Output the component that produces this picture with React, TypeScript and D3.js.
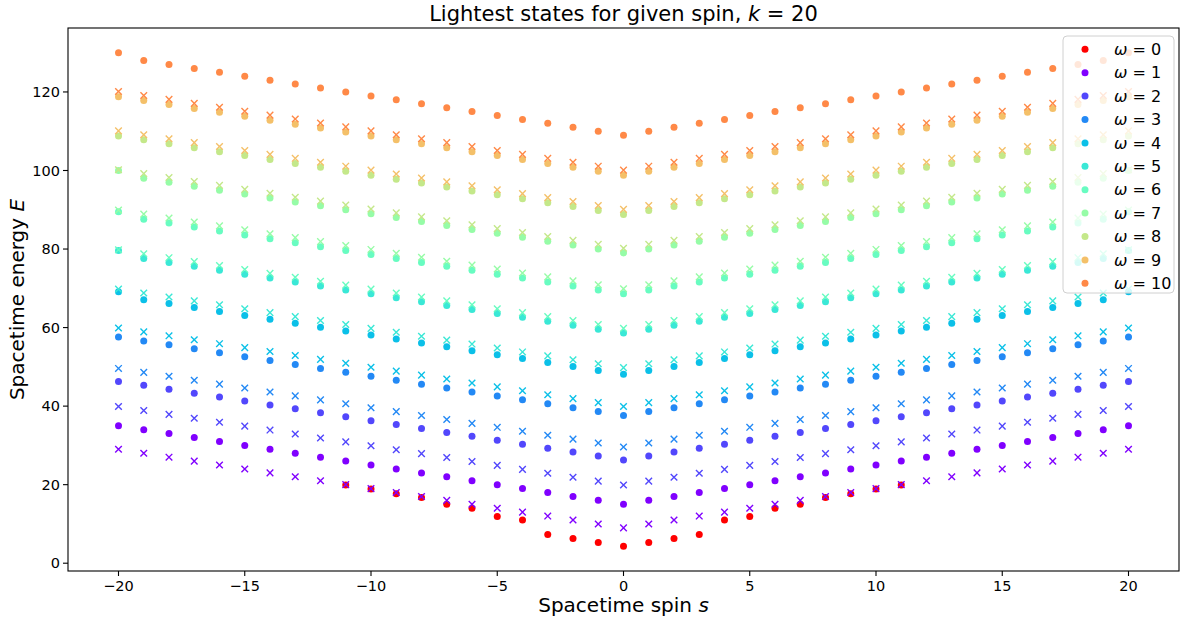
import React from 'react';
import * as d3 from 'd3';

const spins = [-20, -19, -18, -17, -16, -15, -14, -13, -12, -11, -10, -9, -8, -7, -6, -5, -4, -3, -2, -1, 0, 1, 2, 3, 4, 5, 6, 7, 8, 9, 10, 11, 12, 13, 14, 15, 16, 17, 18, 19, 20];
const spinsW0 = [-11, -10, -9, -8, -7, -6, -5, -4, -3, -2, -1, 0, 1, 2, 3, 4, 5, 6, 7, 8, 9, 10, 11];

const omegas = [0, 1, 2, 3, 4, 5, 6, 7, 8, 9, 10];
const colors = ['#ff0000', '#8000ff', '#5247fc', '#2389f5', '#0bc0e8', '#3ae8d6', '#68fcc1', '#96fca7', '#c4e88a', '#f4c069', '#ff8947'];

// lightest states (dots)
const dotsW0 = [19.9, 18.9, 17.7, 16.7, 15.0, 14.0, 11.9, 11.0, 7.3, 6.3, 5.3, 4.3, 5.3, 6.3, 7.3, 11.0, 11.9, 14.0, 15.0, 16.7, 17.7, 18.9, 19.9];
const dotsW1 = [35, 34, 33, 32, 31, 30, 29, 28, 27, 26, 25, 24, 23, 22, 21, 20, 19, 18, 17, 16, 15, 16, 17, 18, 19, 20, 21, 22, 23, 24, 25, 26, 27, 28, 29, 30, 31, 32, 33, 34, 35];
const dotsW2 = [46.3, 45.3, 44.3, 43.3, 42.3, 41.3, 40.3, 39.3, 38.3, 37.3, 36.3, 35.3, 34.3, 33.3, 32.3, 31.3, 30.3, 29.3, 28.3, 27.3, 26.3, 27.3, 28.3, 29.3, 30.3, 31.3, 32.3, 33.3, 34.3, 35.3, 36.3, 37.3, 38.3, 39.3, 40.3, 41.3, 42.3, 43.3, 44.3, 45.3, 46.3];
const dotsW3 = [57.6, 56.6, 55.6, 54.6, 53.6, 52.6, 51.6, 50.6, 49.6, 48.6, 47.6, 46.6, 45.6, 44.6, 43.6, 42.6, 41.6, 40.6, 39.6, 38.6, 37.6, 38.6, 39.6, 40.6, 41.6, 42.6, 43.6, 44.6, 45.6, 46.6, 47.6, 48.6, 49.6, 50.6, 51.6, 52.6, 53.6, 54.6, 55.6, 56.6, 57.6];
const dotsW4 = [69.1, 67.1, 66.1, 65.1, 64.1, 63.1, 62.1, 61.1, 60.1, 59.1, 58.1, 57.1, 56.1, 55.1, 54.1, 53.1, 52.1, 51.1, 50.1, 49.1, 48.1, 49.1, 50.1, 51.1, 52.1, 53.1, 54.1, 55.1, 56.1, 57.1, 58.1, 59.1, 60.1, 61.1, 62.1, 63.1, 64.1, 65.1, 66.1, 67.1, 69.1];
const dotsW5 = [79.6, 77.6, 76.6, 75.6, 74.6, 73.6, 72.6, 71.6, 70.6, 69.6, 68.6, 67.6, 66.6, 65.6, 64.6, 63.6, 62.6, 61.6, 60.6, 59.6, 58.6, 59.6, 60.6, 61.6, 62.6, 63.6, 64.6, 65.6, 66.6, 67.6, 68.6, 69.6, 70.6, 71.6, 72.6, 73.6, 74.6, 75.6, 76.6, 77.6, 79.6];
const dotsW6 = [89.5, 87.6, 86.6, 85.6, 84.6, 83.6, 82.6, 81.6, 80.6, 79.6, 78.6, 77.6, 76.6, 75.6, 74.6, 73.6, 72.6, 71.6, 70.6, 69.6, 68.6, 69.6, 70.6, 71.6, 72.6, 73.6, 74.6, 75.6, 76.6, 77.6, 78.6, 79.6, 80.6, 81.6, 82.6, 83.6, 84.6, 85.6, 86.6, 87.6, 89.5];
const dotsW7 = [100.0, 98.0, 97.0, 96.0, 95.0, 94.0, 93.0, 92.0, 91.0, 90.0, 89.0, 88.0, 87.0, 86.0, 85.0, 84.0, 83.0, 82.0, 81.0, 80.0, 79.0, 80.0, 81.0, 82.0, 83.0, 84.0, 85.0, 86.0, 87.0, 88.0, 89.0, 90.0, 91.0, 92.0, 93.0, 94.0, 95.0, 96.0, 97.0, 98.0, 100.0];
const dotsW8 = [108.8, 107.8, 106.8, 105.8, 104.8, 103.8, 102.8, 101.8, 100.8, 99.8, 98.8, 97.8, 96.8, 95.8, 94.8, 93.8, 92.8, 91.8, 90.8, 89.8, 88.8, 89.8, 90.8, 91.8, 92.8, 93.8, 94.8, 95.8, 96.8, 97.8, 98.8, 99.8, 100.8, 101.8, 102.8, 103.8, 104.8, 105.8, 106.8, 107.8, 108.8];
const dotsW9 = [118.8, 117.8, 116.8, 115.8, 114.8, 113.8, 112.8, 111.8, 110.8, 109.8, 108.8, 107.8, 106.8, 105.8, 104.8, 103.8, 102.8, 101.8, 100.8, 99.8, 98.8, 99.8, 100.8, 101.8, 102.8, 103.8, 104.8, 105.8, 106.8, 107.8, 108.8, 109.8, 110.8, 111.8, 112.8, 113.8, 114.8, 115.8, 116.8, 117.8, 118.8];
const dotsW10 = [130, 128, 127, 126, 125, 124, 123, 122, 121, 120, 119, 118, 117, 116, 115, 114, 113, 112, 111, 110, 109, 110, 111, 112, 113, 114, 115, 116, 117, 118, 119, 120, 121, 122, 123, 124, 125, 126, 127, 128, 130];

// crosses
const crossW1 = [29, 28, 27, 26, 25, 24, 23, 22, 21, 20, 19, 18, 17, 16, 15, 14, 13, 12, 11, 10, 9, 10, 11, 12, 13, 14, 15, 16, 17, 18, 19, 20, 21, 22, 23, 24, 25, 26, 27, 28, 29];
const crossW2 = [39.9, 38.9, 37.9, 36.9, 35.9, 34.9, 33.9, 32.9, 31.9, 30.9, 29.9, 28.9, 27.9, 26.9, 25.9, 24.9, 23.9, 22.9, 21.9, 20.9, 19.9, 20.9, 21.9, 22.9, 23.9, 24.9, 25.9, 26.9, 27.9, 28.9, 29.9, 30.9, 31.9, 32.9, 33.9, 34.9, 35.9, 36.9, 37.9, 38.9, 39.9];
const crossW3 = [49.6, 48.6, 47.6, 46.6, 45.6, 44.6, 43.6, 42.6, 41.6, 40.6, 39.6, 38.6, 37.6, 36.6, 35.6, 34.6, 33.6, 32.6, 31.6, 30.6, 29.6, 30.6, 31.6, 32.6, 33.6, 34.6, 35.6, 36.6, 37.6, 38.6, 39.6, 40.6, 41.6, 42.6, 43.6, 44.6, 45.6, 46.6, 47.6, 48.6, 49.6];
const crossW4 = [59.9, 58.9, 57.9, 56.9, 55.9, 54.9, 53.9, 52.9, 51.9, 50.9, 49.9, 48.9, 47.9, 46.9, 45.9, 44.9, 43.9, 42.9, 41.9, 40.9, 39.9, 40.9, 41.9, 42.9, 43.9, 44.9, 45.9, 46.9, 47.9, 48.9, 49.9, 50.9, 51.9, 52.9, 53.9, 54.9, 55.9, 56.9, 57.9, 58.9, 59.9];
const crossW5 = [69.8, 68.8, 67.8, 66.8, 65.8, 64.8, 63.8, 62.8, 61.8, 60.8, 59.8, 58.8, 57.8, 56.8, 55.8, 54.8, 53.8, 52.8, 51.8, 50.8, 49.8, 50.8, 51.8, 52.8, 53.8, 54.8, 55.8, 56.8, 57.8, 58.8, 59.8, 60.8, 61.8, 62.8, 63.8, 64.8, 65.8, 66.8, 67.8, 68.8, 69.8];
const crossW6 = [79.8, 78.8, 77.8, 76.8, 75.8, 74.8, 73.8, 72.8, 71.8, 70.8, 69.8, 68.8, 67.8, 66.8, 65.8, 64.8, 63.8, 62.8, 61.8, 60.8, 59.8, 60.8, 61.8, 62.8, 63.8, 64.8, 65.8, 66.8, 67.8, 68.8, 69.8, 70.8, 71.8, 72.8, 73.8, 74.8, 75.8, 76.8, 77.8, 78.8, 79.8];
const crossW7 = [89.9, 88.9, 87.9, 86.9, 85.9, 84.9, 83.9, 82.9, 81.9, 80.9, 79.9, 78.9, 77.9, 76.9, 75.9, 74.9, 73.9, 72.9, 71.9, 70.9, 69.9, 70.9, 71.9, 72.9, 73.9, 74.9, 75.9, 76.9, 77.9, 78.9, 79.9, 80.9, 81.9, 82.9, 83.9, 84.9, 85.9, 86.9, 87.9, 88.9, 89.9];
const crossW8 = [100.2, 99.2, 98.2, 97.2, 96.2, 95.2, 94.2, 93.2, 92.2, 91.2, 90.2, 89.2, 88.2, 87.2, 86.2, 85.2, 84.2, 83.2, 82.2, 81.2, 80.2, 81.2, 82.2, 83.2, 84.2, 85.2, 86.2, 87.2, 88.2, 89.2, 90.2, 91.2, 92.2, 93.2, 94.2, 95.2, 96.2, 97.2, 98.2, 99.2, 100.2];
const crossW9 = [110.1, 109.1, 108.1, 107.1, 106.1, 105.1, 104.1, 103.1, 102.1, 101.1, 100.1, 99.1, 98.1, 97.1, 96.1, 95.1, 94.1, 93.1, 92.1, 91.1, 90.1, 91.1, 92.1, 93.1, 94.1, 95.1, 96.1, 97.1, 98.1, 99.1, 100.1, 101.1, 102.1, 103.1, 104.1, 105.1, 106.1, 107.1, 108.1, 109.1, 110.1];
const crossW10 = [120.1, 119.1, 118.1, 117.1, 116.1, 115.1, 114.1, 113.1, 112.1, 111.1, 110.1, 109.1, 108.1, 107.1, 106.1, 105.1, 104.1, 103.1, 102.1, 101.1, 100.1, 101.1, 102.1, 103.1, 104.1, 105.1, 106.1, 107.1, 108.1, 109.1, 110.1, 111.1, 112.1, 113.1, 114.1, 115.1, 116.1, 117.1, 118.1, 119.1, 120.1];

const xTicks = [-20, -15, -10, -5, 0, 5, 10, 15, 20];
const yTicks = [0, 20, 40, 60, 80, 100, 120];

const dotSeries = [dotsW0, dotsW1, dotsW2, dotsW3, dotsW4, dotsW5, dotsW6, dotsW7, dotsW8, dotsW9, dotsW10];
const crossSeries = [null, crossW1, crossW2, crossW3, crossW4, crossW5, crossW6, crossW7, crossW8, crossW9, crossW10];

const W = 1184;
const H = 619;
const m = { l: 68, r: 5, t: 28, b: 48 };
const font = 'DejaVu Sans, sans-serif';

const fmt = (v: number) => (v < 0 ? '\u2212' + Math.abs(v) : String(v));

const Cross = ({ x, y, c }) => {
	const a = 3.3;
	return <path d={`M${x - a},${y - a}L${x + a},${y + a}M${x - a},${y + a}L${x + a},${y - a}`} stroke={c} strokeWidth={1.4} fill="none" />;
};

const App = () => {
	const allY = [...dotSeries.flat(), ...crossSeries.filter(Boolean).flat()];
	const [y0, y1] = d3.extent(allY) as [number, number];
	const yPad = (y1 - y0) * 0.05;
	const xScale = d3.scaleLinear().domain([-22, 22]).range([m.l, W - m.r]);
	const yScale = d3.scaleLinear().domain([y0 - yPad, y1 + yPad]).range([H - m.b, m.t]);

	const legX = 1063;
	const legY = 36;
	const rowH = 23.4;

	return (
		<svg width={W} height={H} style={{ position: 'absolute', left: 0, top: 0, background: '#fff' }} fontFamily={font}>
			<rect width={W} height={H} fill="#fff" />
			{omegas.map((w) => {
				const xs = w === 0 ? spinsW0 : spins;
				const cross = crossSeries[w];
				return (
					<g key={w}>
						{dotSeries[w].map((v, i) => (
							<circle key={'d' + i} cx={xScale(xs[i])} cy={yScale(v)} r={3.5} fill={colors[w]} />
						))}
						{cross && cross.map((v, i) => <Cross key={'x' + i} x={xScale(spins[i])} y={yScale(v)} c={colors[w]} />)}
					</g>
				);
			})}

			{/* axes frame */}
			<rect x={m.l} y={m.t} width={W - m.l - m.r} height={H - m.t - m.b} fill="none" stroke="#000" strokeWidth={1.1} />
			{xTicks.map((t) => (
				<g key={t} transform={`translate(${xScale(t)},${H - m.b})`}>
					<line y2={5} stroke="#000" strokeWidth={1.1} />
					<text y={20} textAnchor="middle" fontSize={14.5}>{fmt(t)}</text>
				</g>
			))}
			{yTicks.map((t) => (
				<g key={t} transform={`translate(${m.l},${yScale(t)})`}>
					<line x2={-5} stroke="#000" strokeWidth={1.1} />
					<text x={-8} dy="0.35em" textAnchor="end" fontSize={14.5}>{t}</text>
				</g>
			))}

			<text x={(m.l + W - m.r) / 2} y={612} textAnchor="middle" fontSize={20}>
				Spacetime spin <tspan fontStyle="italic">s</tspan>
			</text>
			<text transform={`translate(24,${(m.t + H - m.b) / 2}) rotate(-90)`} textAnchor="middle" fontSize={20}>
				Spacetime energy <tspan fontStyle="italic">E</tspan>
			</text>
			<text x={(m.l + W - m.r) / 2} y={21} textAnchor="middle" fontSize={21}>
				Lightest states for given spin, <tspan fontStyle="italic">k</tspan> = 20
			</text>

			{/* legend */}
			<rect x={legX} y={legY} width={111} height={257} rx={4} fill="#fff" fillOpacity={0.8} stroke="#d0d0d0" strokeWidth={1} />
			{omegas.map((w, i) => (
				<g key={w} transform={`translate(${legX},${legY + 13.3 + i * rowH})`}>
					<circle cx={22} cy={0} r={3.5} fill={colors[w]} />
					<text x={51} dy="0.35em" fontSize={16}>
						<tspan fontStyle="italic">ω</tspan> = {w}
					</text>
				</g>
			))}
		</svg>
	);
};

export default App;
